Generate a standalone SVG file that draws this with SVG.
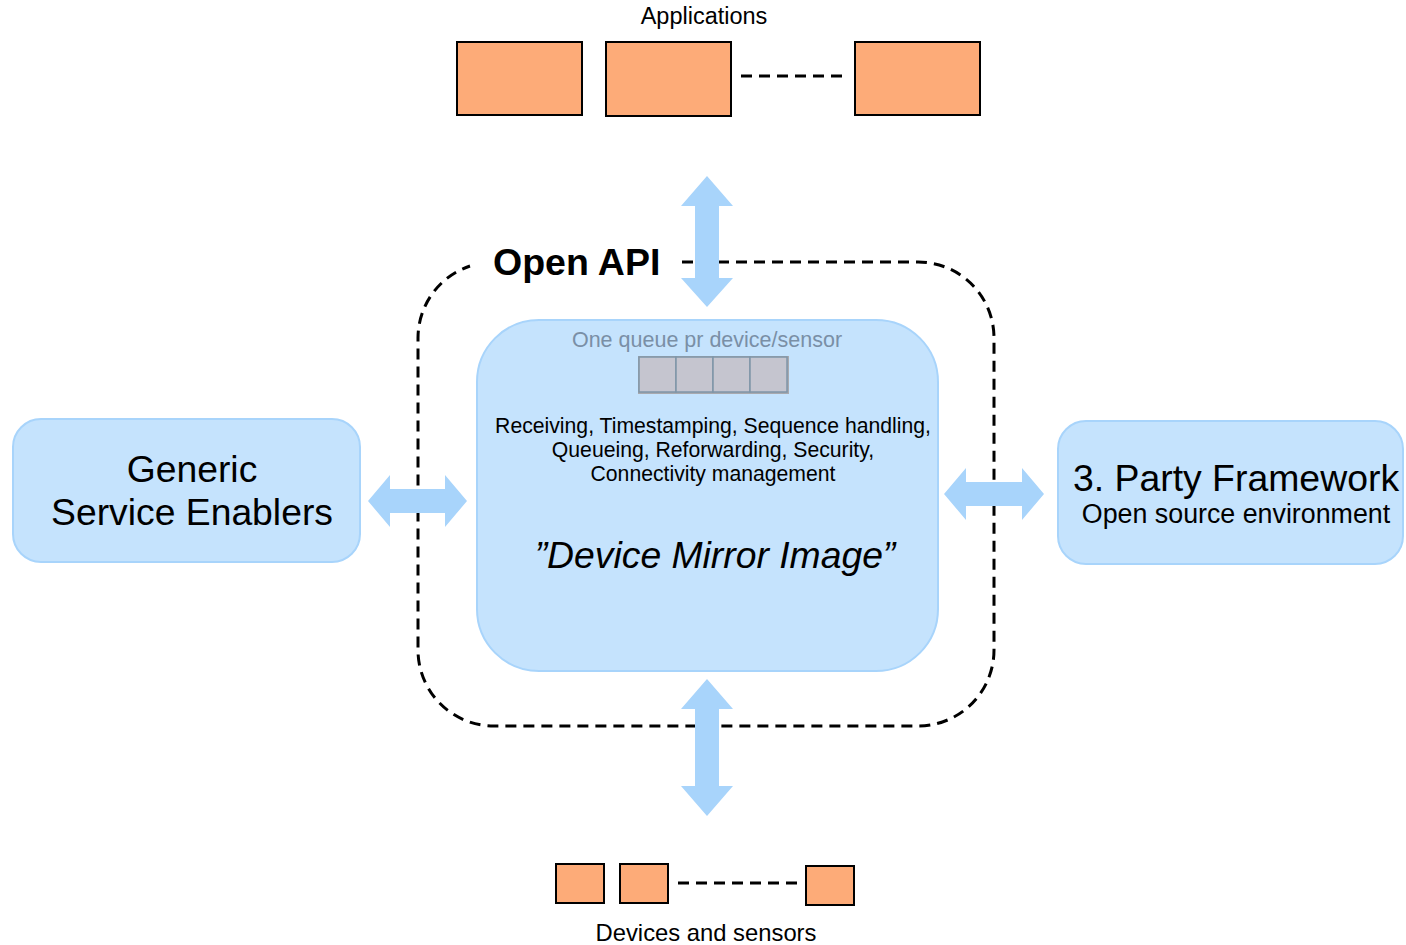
<svg xmlns="http://www.w3.org/2000/svg" width="1406" height="945" viewBox="0 0 1406 945">
<style>
text{font-family:"Liberation Sans",Arial,sans-serif;fill:#000}
.org{fill:#fdab78;stroke:#000;stroke-width:2}
.blue{fill:#c5e3fd;stroke:#a8d4fb;stroke-width:2}
.arr{fill:#a8d4fb}
.dash{fill:none;stroke:#000;stroke-width:3;stroke-dasharray:11 7}
.cell{fill:#c5c5cf;stroke:#7f95a8;stroke-width:1.5}
</style>
<g id="applications">
<text x="704" y="24" font-size="23.5" text-anchor="middle">Applications</text>
<rect class="org" x="457" y="42" width="125" height="73"/>
<rect class="org" x="606" y="42" width="125" height="74"/>
<rect class="org" x="855" y="42" width="125" height="73"/>
<line class="dash" x1="741" y1="76" x2="848" y2="76" stroke-dasharray="8 6"/>
</g>
<g id="open-api">
<path class="dash" d="M682,262 H918 A76,76 0 0 1 994,338 V650 A76,76 0 0 1 918,726 H494 A76,76 0 0 1 418,650 V338 A76,76 0 0 1 470,266"/>
<text x="493" y="275" font-size="37.5" font-weight="bold">Open API</text>
</g>
<g id="device-mirror">
<rect class="blue" x="477" y="320" width="461" height="351" rx="62"/>
<text x="707" y="347" font-size="21.5" text-anchor="middle" style="fill:#7a8fa6">One queue pr device/sensor</text>
<rect x="638" y="356" width="151" height="38" fill="#a9a9ae"/>
<rect class="cell" x="639" y="357" width="37" height="35"/>
<rect class="cell" x="676" y="357" width="37" height="35"/>
<rect class="cell" x="713" y="357" width="37" height="35"/>
<rect class="cell" x="750" y="357" width="37" height="35"/>
<text x="713" y="433" font-size="21.2" text-anchor="middle">Receiving, Timestamping, Sequence handling,</text>
<text x="713" y="457" font-size="21.2" text-anchor="middle">Queueing, Reforwarding, Security,</text>
<text x="713" y="481" font-size="21.2" text-anchor="middle">Connectivity management</text>
<text x="715" y="568" font-size="37.3" font-style="italic" text-anchor="middle">”Device Mirror Image”</text>
</g>
<g id="generic-service-enablers">
<rect class="blue" x="13" y="419" width="347" height="143" rx="28"/>
<text x="192" y="482" font-size="37.3" text-anchor="middle">Generic</text>
<text x="192" y="525" font-size="37.3" text-anchor="middle">Service Enablers</text>
</g>
<g id="third-party-framework">
<rect class="blue" x="1058" y="421" width="345" height="143" rx="28"/>
<text x="1236" y="491" font-size="37.4" text-anchor="middle">3. Party Framework</text>
<text x="1236" y="523" font-size="26.8" text-anchor="middle">Open source environment</text>
</g>
<g id="devices">
<rect class="org" x="556" y="864" width="48" height="39"/>
<rect class="org" x="620" y="864" width="48" height="39"/>
<rect class="org" x="806" y="866" width="48" height="39"/>
<line class="dash" x1="678" y1="883" x2="800" y2="883" stroke-dasharray="8 5"/>
<text x="706" y="941" font-size="23.8" text-anchor="middle">Devices and sensors</text>
</g>
<g id="connectors">
<polygon class="arr" points="707,176 733,206 719,206 719,278 733,278 707,307 681,278 695,278 695,206 681,206"/>
<polygon class="arr" points="707,679 733,709 719,709 719,786 733,786 707,816 681,786 695,786 695,709 681,709"/>
<polygon class="arr" points="368,501 390,475 390,489 445,489 445,475 467,501 445,527 445,513 390,513 390,527"/>
<polygon class="arr" points="944,494 966,468 966,482 1022,482 1022,468 1044,494 1022,520 1022,506 966,506 966,520"/>
</g>
</svg>
